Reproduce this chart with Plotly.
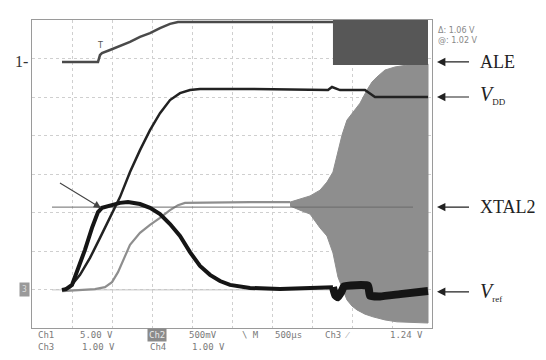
import plotly.graph_objects as go

# time in microseconds (500 us/div), vertical value in screen divisions
ale_t = [375, 825, 850, 875, 975, 1100, 1225, 1350, 1475, 1600, 1725, 1825, 2100, 2725, 3350, 3790]
ale_v = [6.91, 6.91, 7.09, 7.14, 7.22, 7.32, 7.43, 7.56, 7.66, 7.79, 7.90, 7.95, 7.95, 7.95, 7.95, 7.95]

vdd_t = [375, 475, 600, 725, 850, 975, 1100, 1225, 1350, 1475, 1600, 1725, 1850, 1975, 2100, 2725,
         3350, 3700, 3750, 3800, 3850, 4162, 4225, 4287, 4600, 4950]
vdd_v = [0.99, 1.06, 1.38, 1.82, 2.34, 2.86, 3.40, 4.05, 4.62, 5.14, 5.58, 5.92, 6.10, 6.18, 6.21, 6.21,
         6.18, 6.18, 6.26, 6.23, 6.18, 6.18, 6.08, 6.00, 6.00, 6.00]

vref_t = [375, 425, 500, 575, 662, 750, 825, 875, 975, 1100, 1200, 1350, 1475, 1600, 1725, 1850, 1975,
          2100, 2225, 2350, 2475, 2725, 3100, 3600, 3762]
vref_v = [0.99, 1.01, 1.12, 1.51, 2.03, 2.60, 3.01, 3.12, 3.17, 3.25, 3.27, 3.22, 3.12, 2.96, 2.70, 2.39, 1.97,
          1.61, 1.38, 1.22, 1.12, 1.04, 1.01, 1.04, 1.06]
vref_noisy_t = [3762, 3790, 3825, 3870, 3900, 4200, 4225, 4350, 4600, 4950]
vref_noisy_v = [1.06, 0.85, 0.80, 0.95, 1.08, 1.10, 0.84, 0.82, 0.88, 0.96]

xtal_t = [375, 600, 787, 912, 1000, 1075, 1150, 1225, 1350, 1475, 1600, 1725, 1825, 1912, 2725, 3225]
xtal_v = [0.96, 0.99, 1.01, 1.06, 1.19, 1.45, 1.82, 2.16, 2.47, 2.68, 2.86, 3.06, 3.19, 3.25, 3.27, 3.27]

env_up_t = [3225, 3350, 3475, 3600, 3687, 3762, 3825, 3875, 3937, 4012, 4100, 4187, 4250, 4312, 4412, 4537, 4687, 4950]
env_up_v = [3.27, 3.35, 3.43, 3.58, 3.79, 4.05, 4.57, 5.01, 5.40, 5.61, 5.84, 6.18, 6.39, 6.52, 6.70, 6.78, 6.83, 6.86]
env_lo_t = [3225, 3350, 3475, 3600, 3687, 3762, 3825, 3887, 3937, 4000, 4062, 4162, 4262, 4412, 4562, 4950]
env_lo_v = [3.17, 3.06, 2.96, 2.60, 2.39, 1.95, 1.32, 0.99, 0.73, 0.57, 0.47, 0.36, 0.29, 0.21, 0.16, 0.13]

xtal_ref_t = [250, 4762]
xtal_ref_v = [3.14, 3.14]
gnd_ref_t = [250, 4950]
gnd_ref_v = [0.99, 0.99]

block_t = [3762, 4950]
block_v = [6.83, 8.0]

fig = go.Figure()

fig.add_trace(go.Scatter(x=gnd_ref_t, y=gnd_ref_v, mode="lines",
                         line=dict(color="#c4c4c4", width=1)))
fig.add_trace(go.Scatter(x=env_up_t + env_lo_t[::-1], y=env_up_v + env_lo_v[::-1],
                         mode="lines", fill="toself", fillcolor="#8e8e8e",
                         line=dict(color="#8e8e8e", width=1)))
fig.add_trace(go.Scatter(x=xtal_t, y=xtal_v, mode="lines",
                         line=dict(color="#8e8e8e", width=2.2)))
fig.add_trace(go.Scatter(x=xtal_ref_t, y=xtal_ref_v, mode="lines",
                         line=dict(color="#6a6a6a", width=1)))
fig.add_trace(go.Scatter(x=ale_t, y=ale_v, mode="lines",
                         line=dict(color="#4a4a4a", width=2.5)))
fig.add_trace(go.Scatter(x=vdd_t, y=vdd_v, mode="lines",
                         line=dict(color="#222222", width=2.5)))
fig.add_trace(go.Scatter(x=vref_t, y=vref_v, mode="lines",
                         line=dict(color="#151515", width=4)))
fig.add_trace(go.Scatter(x=vref_noisy_t, y=vref_noisy_v, mode="lines",
                         line=dict(color="#151515", width=8, shape="spline", smoothing=0.4)))

fig.add_shape(type="rect", x0=block_t[0], x1=block_t[1], y0=block_v[0], y1=block_v[1],
              fillcolor="#575757", line=dict(width=0), layer="above")

serif = "Liberation Serif"
ann = []
# right-side arrows and labels
labels = [(6.91, 6.91, "ALE"),
          (6.00, 6.05, "<i>V</i><sub><span style='font-size:9px'>DD</span></sub>"),
          (3.14, 3.14, "XTAL2"),
          (0.94, 0.94, "<i>V</i><sub><span style='font-size:9px'>ref</span></sub>")]
for ya, yt, txt in labels:
    ann.append(dict(xref="paper", yref="y", x=1.0125, y=ya, text=" ", showarrow=True,
                    ax=34, ay=0, arrowhead=2, arrowsize=1.4, arrowwidth=1.2, arrowcolor="#222",
                    font=dict(size=4)))
    ann.append(dict(xref="paper", yref="y", x=1.115, y=yt, text=txt, showarrow=False,
                    xanchor="left", yanchor="middle",
                    font=dict(family=serif, size=20 if "<i>" in txt else 18, color="#222")))
# pointer arrow at Vref
ann.append(dict(xref="x", yref="y", x=862, y=3.12, text=" ", showarrow=True, ax=-43, ay=-26,
                arrowhead=2, arrowsize=1.3, arrowwidth=1.1, arrowcolor="#444", font=dict(size=4)))
# channel markers
ann.append(dict(xref="paper", yref="y", x=-0.005, y=6.91, text="1-", showarrow=False,
                xanchor="right", font=dict(family=serif, size=16, color="#333")))
ann.append(dict(xref="paper", yref="y", x=-0.005, y=0.99, text="3", showarrow=False,
                xanchor="right", bgcolor="#9a9a9a", borderpad=2,
                font=dict(family="DejaVu Sans Mono", size=8, color="#dcdcdc")))
ann.append(dict(xref="x", yref="y", x=850, y=7.35, text="T", showarrow=False,
                font=dict(family="DejaVu Sans", size=8, color="#555")))
# cursor readouts
ann.append(dict(xref="paper", yref="paper", x=1.01, y=0.987, text="Δ: 1.06 V", showarrow=False,
                xanchor="left", font=dict(family="DejaVu Sans", size=8, color="#888")))
ann.append(dict(xref="paper", yref="paper", x=1.01, y=0.955, text="@: 1.02 V", showarrow=False,
                xanchor="left", font=dict(family="DejaVu Sans", size=8, color="#888")))
# bottom status line
mono = dict(family="DejaVu Sans Mono", size=9, color="#7a7a7a")
bottom = [(0.01, -0.023, "Ch1"), (0.115, -0.023, "5.00 V"), (0.3875, -0.023, "500mV"),
          (0.52, -0.023, "\\ M"), (0.6025, -0.023, "500µs"), (0.7275, -0.023, "Ch3 ⁄"),
          (0.89, -0.023, "1.24 V"),
          (0.01, -0.062, "Ch3"), (0.12, -0.062, "1.00 V"), (0.29, -0.062, "Ch4"), (0.395, -0.062, "1.00 V")]
for x, y, t in bottom:
    ann.append(dict(xref="paper", yref="paper", x=x, y=y, text=t, showarrow=False,
                    xanchor="left", yanchor="middle", font=mono))
ann.append(dict(xref="paper", yref="paper", x=0.2875, y=-0.023, text="Ch2", showarrow=False,
                xanchor="left", yanchor="middle", bgcolor="#8a8a8a",
                font=dict(family="DejaVu Sans Mono", size=9, color="#e8e8e8")))

fig.update_layout(
    width=538, height=352,
    margin=dict(l=24, r=114, t=12, b=32),
    paper_bgcolor="white", plot_bgcolor="white",
    showlegend=False,
    annotations=ann,
    xaxis=dict(range=[0, 5000], dtick=500, showticklabels=False, ticks="",
               showgrid=True, gridcolor="#cfcfcf", griddash="dot", gridwidth=1,
               zeroline=False, showline=True, linecolor="#9a9a9a", linewidth=1, mirror=True),
    yaxis=dict(range=[0, 8], dtick=1, showticklabels=False, ticks="",
               showgrid=True, gridcolor="#cfcfcf", griddash="dot", gridwidth=1,
               zeroline=False, showline=True, linecolor="#9a9a9a", linewidth=1, mirror=True),
)

fig.write_html("out.html", config={"displayModeBar": False})
